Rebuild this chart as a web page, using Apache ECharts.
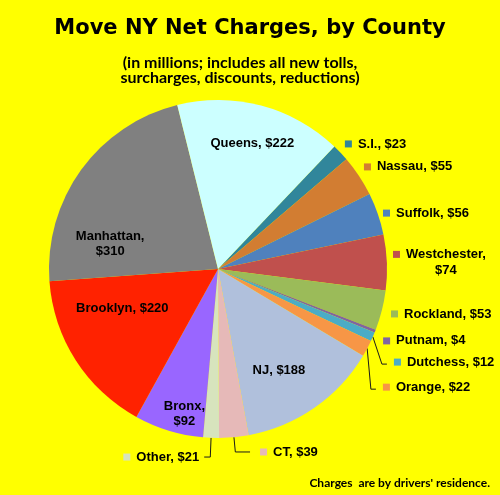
<!DOCTYPE html>
<html><head><meta charset="utf-8">
<script src="https://cdn.jsdelivr.net/npm/echarts@6/dist/echarts.min.js"></script>
<style>html,body{margin:0;padding:0;background:#FFFF00;} #c{width:500px;height:495px;}</style>
</head><body><div id="c"></div>
<script>
// ---- data ----
const names = ['S.I.','Nassau','Suffolk','Westchester','Rockland','Putnam','Dutchess','Orange','NJ','CT','Other','Bronx','Brooklyn','Manhattan','Queens'];
const values = [23,55,56,74,53,4,12,22,188,39,21,92,220,310,222];
const titleText = 'Move NY Net Charges, by County';
const subtitleText = '(in millions; includes all new tolls,\nsurcharges, discounts, reductions)';
const footerText = "Charges  are by drivers' residence.";

// ---- style ----
const colors = ['#31869B','#D27D32','#4F81BD','#C0504D','#9BBB59','#8064A2','#4BACC6','#F79646','#B0C0DC','#E6B9B8','#D7E4BD','#9966FF','#FF2200','#808080','#CCFFFF'];
const insideNames = ['NJ','Bronx','Brooklyn','Manhattan','Queens'];
const wrapNames = ['Manhattan','Bronx','Westchester'];
const leaderNames = ['Dutchess','Orange','CT','Other'];
const bentLeaders = ['Dutchess','Orange'];
// [labelLine length, length2, distanceToLabelLine]
const lineGeom = {
  'S.I.':[12.6,-9.8,5], 'Nassau':[16.3,-13.7,5], 'Suffolk':[2.1,-1.7,5], 'Westchester':[0,1.1,5],
  'Rockland':[14.3,-9.7,5], 'Putnam':[26.6,-21.8,5], 'Dutchess':[63.2,-41.8,5], 'Orange':[82.4,-62,5],
  'CT':[14.8,14.7,10], 'Other':[19.2,6.1,5]
};
const insideShift = { 'Queens':[12,-41], 'Manhattan':[-37,26], 'Brooklyn':[-22,-8], 'Bronx':[-8,61], 'NJ':[11,30] };
const FONT = 'Liberation Sans, Arial, sans-serif';

function richFor(col) {
  const base = {fontFamily: FONT, fontWeight: 'bold', fontSize: 13, color: '#000', lineHeight: 16};
  return {
    m: {width: 7, height: 7, backgroundColor: col},
    g: {width: 6, height: 7},
    p: {width: 13, height: 7},
    t: Object.assign({}, base),
    c: Object.assign({align: 'center'}, base)
  };
}

const data = names.map((n, i) => {
  const item = {name: n, value: values[i], itemStyle: {color: colors[i]}};
  if (insideNames.includes(n)) {
    item.label = {position: 'inside', fontFamily: FONT, fontWeight: 'bold', fontSize: 13, color: '#000', lineHeight: 15, align: 'center',
      formatter: wrapNames.includes(n) ? n + ',\n$' + values[i] : n + ', $' + values[i]};
    item.labelLine = {show: false};
  } else {
    const g = lineGeom[n];
    item.label = {position: 'outside', distanceToLabelLine: g[2], rich: richFor(colors[i]),
      formatter: wrapNames.includes(n) ? '{m|}{g|}{t|' + n + ',}\n{p|}{c|$' + values[i] + '}' : '{m|}{g|}{t|' + n + ', $' + values[i] + '}'};
    item.labelLine = {show: leaderNames.includes(n), length: g[0], length2: g[1], smooth: false,
      lineStyle: {color: '#1a1a1a', width: 1}};
  }
  return item;
});

const chart = echarts.init(document.getElementById('c'), null, {renderer: 'canvas'});
chart.setOption({
  backgroundColor: '#FFFF00',
  animation: false,
  title: [
    {text: titleText, left: 'center', top: 18, padding: 0,
     textStyle: {fontFamily: 'DejaVu Sans', fontWeight: 'bold', fontSize: 21, color: '#000'}},
    {text: subtitleText, left: 240, top: 55, padding: 0, textAlign: 'center',
     textStyle: {fontFamily: 'Lato', fontWeight: 'bold', fontSize: 16, lineHeight: 15, color: '#000', align: 'center'}},
    {text: footerText, right: 10, top: 477, padding: 0,
     textStyle: {fontFamily: 'Lato', fontWeight: 'bold', fontSize: 12, color: '#000'}}
  ],
  series: [{
    type: 'pie',
    center: [218, 269],
    radius: [0, 169],
    startAngle: 46.5,
    clockwise: true,
    avoidLabelOverlap: false,
    silent: true,
    emphasis: {disabled: true},
    itemStyle: {borderWidth: 0},
    label: {show: true},
    labelLayout: function (p) {
      const n = names[p.dataIndex];
      if (insideShift[n]) return {dx: insideShift[n][0], dy: insideShift[n][1]};
      if (bentLeaders.includes(n) && p.labelLinePoints && p.labelLinePoints.length) {
        const r = p.labelRect;
        const y = r.y + r.height / 2 + 2;
        return {labelLinePoints: [p.labelLinePoints[0], [r.x - 12, y], [r.x - 7, y]]};
      }
      return {};
    },
    data: data
  }]
});
</script></body></html>
